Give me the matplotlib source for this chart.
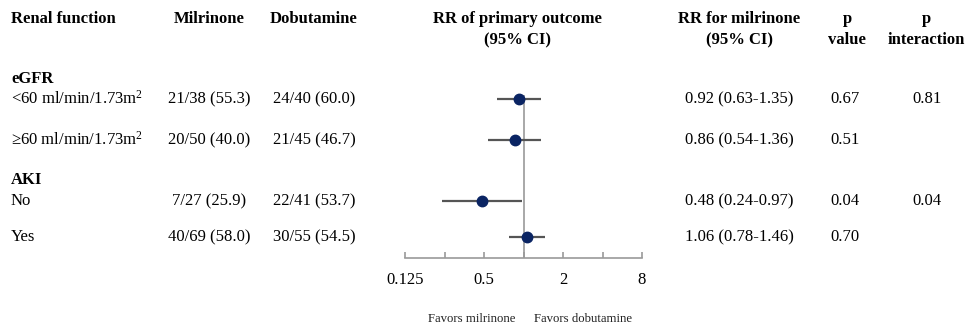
import matplotlib
matplotlib.use('Agg')
import matplotlib.pyplot as plt
from matplotlib.ticker import FixedLocator, NullFormatter

plt.rcParams['font.family'] = ['Liberation Serif', 'DejaVu Serif']
plt.rcParams['mathtext.fontset'] = 'custom'
plt.rcParams['mathtext.rm'] = 'Liberation Serif'
plt.rcParams['mathtext.it'] = 'Liberation Serif'
plt.rcParams['mathtext.bf'] = 'Liberation Serif:bold'

# data
groups = ['eGFR', 'AKI']
labels = ['<60 ml/min/1.73m$^2$', '\u226560 ml/min/1.73m$^2$', 'No', 'Yes']
milrinone = ['21/38 (55.3)', '20/50 (40.0)', '7/27 (25.9)', '40/69 (58.0)']
dobutamine = ['24/40 (60.0)', '21/45 (46.7)', '22/41 (53.7)', '30/55 (54.5)']
rr = [0.92, 0.86, 0.48, 1.06]
lo = [0.63, 0.54, 0.24, 0.78]
hi = [1.35, 1.36, 0.97, 1.46]
pval = ['0.67', '0.51', '0.04', '0.70']
pint = ['0.81', '', '0.04', '']
xticks = [0.125, 0.5, 2, 8]
xtick_labels = ['0.125', '0.5', '2', '8']
minor_ticks = [0.25, 1, 4]

W, H = 969, 328
fig = plt.figure(figsize=(W / 100, H / 100), dpi=100)

# layout (pixel rows from top)
row_y = [99, 140, 201, 237]
group_y = [79, 180]
axis_y = 258
top_y = 95
x_left, x_right = 405, 642

fs = 12

def txt(x, y, s, **kw):
    kw.setdefault('fontsize', fs)
    kw.setdefault('va', 'center')
    fig.text(x / W, 1 - y / H, s, **kw)

# headers
txt(11, 19, 'Renal function', weight='bold', ha='left')
txt(209, 19, 'Milrinone', weight='bold', ha='center')
txt(314, 19, 'Dobutamine', weight='bold', ha='center')
txt(517, 19, 'RR of primary outcome', weight='bold', ha='center')
txt(517, 40, '(95% CI)', weight='bold', ha='center')
txt(739, 19, 'RR for milrinone', weight='bold', ha='center')
txt(739, 40, '(95% CI)', weight='bold', ha='center')
txt(847, 19, 'p', weight='bold', ha='center')
txt(847, 40, 'value', weight='bold', ha='center')
txt(926, 19, 'p', weight='bold', ha='center')
txt(926, 40, 'interaction', weight='bold', ha='center')

for g, gy in zip(groups, group_y):
    txt(11, gy, g, weight='bold', ha='left')

for i in range(len(labels)):
    y = row_y[i]
    txt(11, y, labels[i], ha='left')
    txt(209, y, milrinone[i], ha='center')
    txt(314, y, dobutamine[i], ha='center')
    txt(739, y, '%.2f (%.2f-%.2f)' % (rr[i], lo[i], hi[i]), ha='center')
    txt(845, y, pval[i], ha='center')
    if pint[i]:
        txt(927, y, pint[i], ha='center')

# forest axes
ax = fig.add_axes([x_left / W, 1 - axis_y / H, (x_right - x_left) / W, (axis_y - top_y) / H])
ax.set_xscale('log', base=2)
ax.set_xlim(xticks[0], xticks[-1])
ax.set_ylim(axis_y, top_y)
ax.patch.set_alpha(0)
for s in ['top', 'right', 'left']:
    ax.spines[s].set_visible(False)
ax.spines['bottom'].set_color('#9a9a9a')
ax.spines['bottom'].set_linewidth(1.2)
ax.set_yticks([])
ax.xaxis.set_major_locator(FixedLocator(xticks))
ax.xaxis.set_minor_locator(FixedLocator(minor_ticks))
ax.xaxis.set_minor_formatter(NullFormatter())
ax.set_xticklabels(xtick_labels)
ax.tick_params(axis='x', which='both', direction='in', length=4, width=1.2,
               color='#9a9a9a', labelsize=fs, pad=10)

ax.axvline(1, color='#9a9a9a', lw=1.2, zorder=1)
ax.hlines(row_y, lo, hi, color='#555555', lw=1.6, zorder=2)
ax.plot(rr, row_y, 'o', color='#0a2463', ms=7.5, zorder=3, clip_on=False)

txt(515, 319, 'Favors milrinone', ha='right', fontsize=9.2, color='#222222')
txt(534, 319, 'Favors dobutamine', ha='left', fontsize=9.2, color='#222222')

fig.savefig('out.png', dpi=100)
